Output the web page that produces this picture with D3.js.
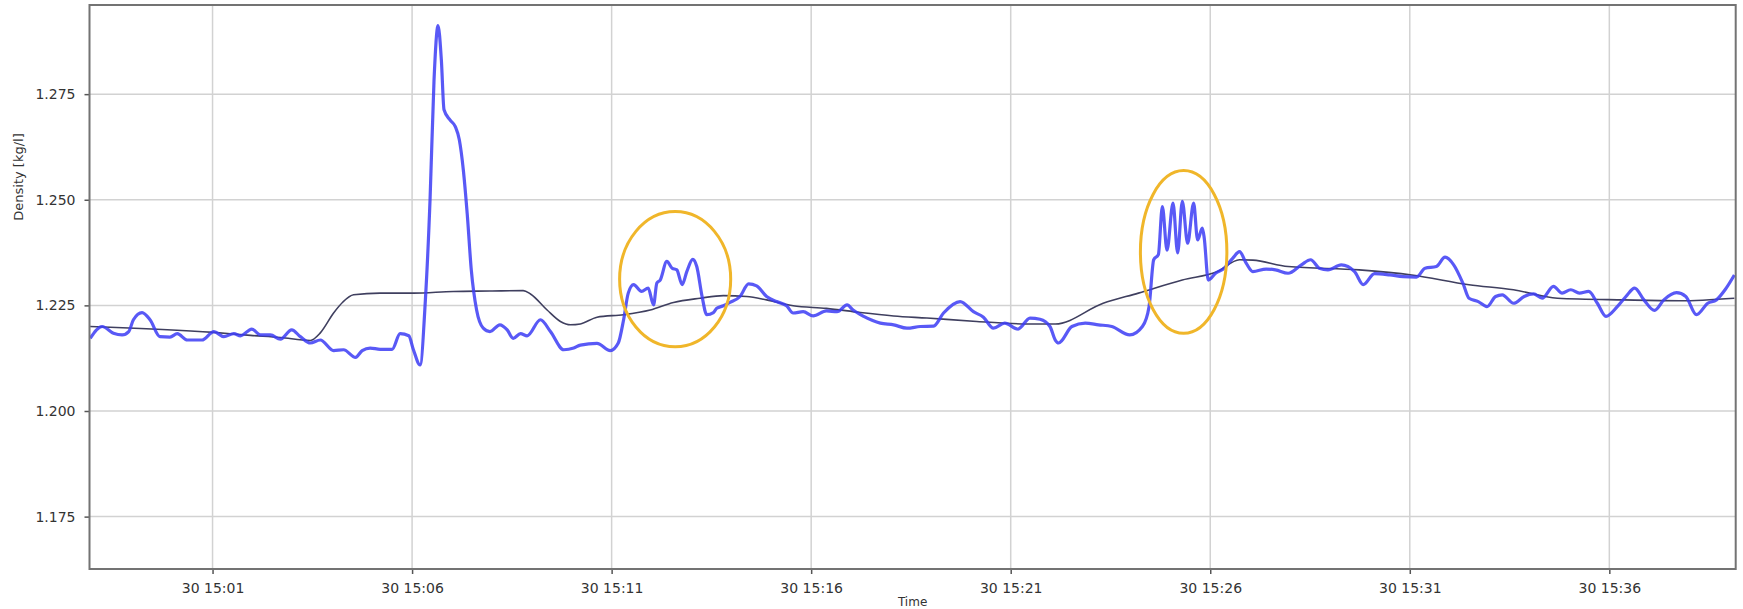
<!DOCTYPE html>
<html>
<head>
<meta charset="utf-8">
<script src="https://cdn.jsdelivr.net/npm/d3@7"></script>
<style>
  html, body { margin: 0; padding: 0; background: #ffffff; }
  svg { display: block; }
  text { font-family: "DejaVu Sans", sans-serif; fill: #333333; }
</style>
</head>
<body>
<svg id="chart" width="1743" height="609"></svg>
<script>
// Measured density (kg/l) over time, day 30
const blueTimes = ["14:57:56","14:58:14","14:58:31","14:58:44","14:58:54","14:59:01","14:59:14","14:59:26","14:59:41","14:59:56",
  "15:00:07","15:00:22","15:00:44","15:01:02","15:01:17","15:01:32","15:01:42","15:01:59","15:02:12","15:02:27",
  "15:02:42","15:02:59","15:03:12","15:03:27","15:03:42","15:04:02","15:04:17","15:04:35","15:04:45","15:04:57",
  "15:05:12","15:05:30","15:05:42","15:05:55","15:06:02","15:06:12","15:06:20","15:06:27","15:06:33","15:06:39",
  "15:06:44","15:06:48","15:06:57","15:07:05","15:07:11","15:07:17","15:07:23","15:07:29","15:07:37","15:07:47",
  "15:07:57","15:08:12","15:08:23","15:08:32","15:08:43","15:08:53","15:09:13","15:09:28","15:09:48","15:10:03",
  "15:10:13","15:10:38","15:10:58","15:11:10","15:11:18","15:11:25","15:11:33","15:11:45","15:11:55","15:12:03",
  "15:12:08","15:12:13","15:12:23","15:12:31","15:12:38","15:12:46","15:12:53","15:13:02","15:13:08","15:13:16",
  "15:13:23","15:13:33","15:13:38","15:13:48","15:13:58","15:14:13","15:14:26","15:14:38","15:14:53","15:15:08",
  "15:15:23","15:15:33","15:15:48","15:16:03","15:16:23","15:16:39","15:16:54","15:17:03","15:17:19","15:17:44",
  "15:18:04","15:18:24","15:18:44","15:19:04","15:19:19","15:19:44","15:20:04","15:20:19","15:20:34","15:20:51",
  "15:21:11","15:21:29","15:21:44","15:21:59","15:22:07","15:22:12","15:22:32","15:22:52","15:23:12","15:23:32",
  "15:23:59","15:24:18","15:24:28","15:24:35","15:24:42","15:24:48","15:24:55","15:25:04","15:25:11","15:25:18",
  "15:25:26","15:25:35","15:25:41","15:25:48","15:25:51","15:25:57","15:26:08","15:26:21","15:26:34","15:26:44",
  "15:26:54","15:27:04","15:27:24","15:27:38","15:27:57","15:28:17","15:28:31","15:28:44","15:28:57","15:29:17",
  "15:29:37","15:29:50","15:30:07","15:30:30","15:30:50","15:31:10","15:31:23","15:31:40","15:31:53","15:32:06",
  "15:32:20","15:32:29","15:32:43","15:32:56","15:33:09","15:33:19","15:33:36","15:33:52","15:34:06","15:34:19",
  "15:34:36","15:34:49","15:35:02","15:35:15","15:35:29","15:35:42","15:35:55","15:36:12","15:36:25","15:36:38",
  "15:36:52","15:37:08","15:37:22","15:37:41","15:37:55","15:38:11","15:38:28","15:38:41","15:38:54","15:39:08"];
const blueValues = [1.2172,1.2200,1.2184,1.2180,1.2188,1.2216,1.2233,1.2216,1.2176,1.2175,
  1.2183,1.2168,1.2168,1.2188,1.2176,1.2183,1.2178,1.2194,1.2180,1.2180,
  1.2170,1.2192,1.2176,1.2161,1.2168,1.2143,1.2145,1.2127,1.2143,1.2149,
  1.2146,1.2146,1.2183,1.2178,1.2145,1.2109,1.2263,1.2500,1.2784,1.2912,
  1.2831,1.2713,1.2689,1.2673,1.2642,1.2571,1.2464,1.2334,1.2239,1.2196,
  1.2188,1.2204,1.2192,1.2172,1.2183,1.2178,1.2216,1.2188,1.2145,1.2149,
  1.2156,1.2160,1.2143,1.2161,1.2216,1.2279,1.2299,1.2283,1.2291,1.2251,
  1.2303,1.2310,1.2354,1.2338,1.2334,1.2299,1.2330,1.2359,1.2342,1.2271,
  1.2228,1.2233,1.2243,1.2249,1.2257,1.2271,1.2301,1.2296,1.2271,1.2259,
  1.2249,1.2232,1.2235,1.2225,1.2237,1.2235,1.2251,1.2239,1.2224,1.2208,
  1.2204,1.2196,1.2200,1.2201,1.2232,1.2259,1.2235,1.2222,1.2196,1.2208,
  1.2194,1.2220,1.2217,1.2200,1.2168,1.2161,1.2200,1.2208,1.2204,1.2200,
  1.2180,1.2200,1.2247,1.2358,1.2370,1.2484,1.2381,1.2492,1.2374,1.2496,
  1.2397,1.2492,1.2405,1.2433,1.2409,1.2310,1.2326,1.2338,1.2362,1.2377,
  1.2350,1.2330,1.2336,1.2334,1.2326,1.2346,1.2358,1.2338,1.2334,1.2346,
  1.2330,1.2299,1.2325,1.2322,1.2318,1.2317,1.2338,1.2342,1.2364,1.2346,
  1.2302,1.2267,1.2259,1.2247,1.2271,1.2275,1.2255,1.2271,1.2277,1.2267,
  1.2295,1.2279,1.2287,1.2279,1.2283,1.2255,1.2224,1.2247,1.2271,1.2291,
  1.2263,1.2238,1.2263,1.2280,1.2271,1.2228,1.2255,1.2263,1.2287,1.2322];

// Smoothed baseline density
const refTimes = ["14:57:56","15:01:02","15:01:57","15:02:42","15:03:27","15:03:42","15:04:02","15:04:16","15:04:32","15:05:12",
  "15:06:02","15:07:02","15:07:57","15:08:47","15:08:58","15:09:23","15:09:43","15:09:58","15:10:13","15:10:38",
  "15:11:18","15:11:58","15:12:33","15:13:13","15:13:48","15:14:23","15:14:53","15:15:33","15:16:23","15:17:14",
  "15:18:04","15:18:54","15:20:09","15:21:24","15:22:07","15:23:19","15:24:12","15:25:18","15:26:11","15:26:44",
  "15:27:04","15:27:57","15:29:44","15:31:03","15:32:29","15:33:36","15:34:42","15:36:22","15:37:46","15:39:08"];
const refValues = [1.2200,1.2186,1.2179,1.2174,1.2167,1.2185,1.2232,1.2258,1.2275,1.2279,
  1.2279,1.2283,1.2284,1.2285,1.2277,1.2239,1.2212,1.2204,1.2206,1.2222,
  1.2228,1.2239,1.2257,1.2267,1.2273,1.2271,1.2263,1.2249,1.2243,1.2233,
  1.2225,1.2220,1.2212,1.2206,1.2206,1.2255,1.2279,1.2310,1.2330,1.2358,
  1.2357,1.2342,1.2334,1.2322,1.2299,1.2287,1.2267,1.2263,1.2261,1.2267];

// Highlighted episodes (time window and density range)
const highlightStart = ["15:11:12", "15:24:15"];
const highlightEnd   = ["15:13:59", "15:26:25"];
const highlightLow   = [1.2152, 1.2184];
const highlightHigh  = [1.2472, 1.2569];

// Axis ticks
const xTickTimes = ["15:01", "15:06", "15:11", "15:16", "15:21", "15:26", "15:31", "15:36"];
const yTickValues = [1.175, 1.200, 1.225, 1.250, 1.275];
const xDomainTimes = ["14:57:55", "15:39:10"];
const yDomain = [1.1626, 1.2961];

const day = "2020-11-30 ";
const parseSec = d3.timeParse("%Y-%m-%d %H:%M:%S");
const parseMin = d3.timeParse("%Y-%m-%d %H:%M");

const blueData = blueTimes.map((t, i) => ({ t: parseSec(day + t), v: blueValues[i] }));
const refData = refTimes.map((t, i) => ({ t: parseSec(day + t), v: refValues[i] }));

const plot = { left: 89.5, right: 1735.7, top: 5, bottom: 569 };

const svg = d3.select("#chart");

const x = d3.scaleTime()
  .domain(xDomainTimes.map(t => parseSec(day + t)))
  .range([plot.left, plot.right]);
const y = d3.scaleLinear()
  .domain(yDomain)
  .range([plot.bottom, plot.top]);

const xTicks = xTickTimes.map(t => parseMin(day + t));

// grid
const grid = svg.append("g").attr("class", "grid");
grid.selectAll("line.gx").data(xTicks).join("line")
  .attr("x1", d => x(d)).attr("x2", d => x(d))
  .attr("y1", plot.top).attr("y2", plot.bottom)
  .attr("stroke", "#d2d2d2").attr("stroke-width", 1.5);
grid.selectAll("line.gy").data(yTickValues).join("line")
  .attr("x1", plot.left).attr("x2", plot.right)
  .attr("y1", d => y(d)).attr("y2", d => y(d))
  .attr("stroke", "#d2d2d2").attr("stroke-width", 1.5);

// clip to plot area
svg.append("defs").append("clipPath").attr("id", "plotclip")
  .append("rect")
  .attr("x", plot.left).attr("y", plot.top)
  .attr("width", plot.right - plot.left).attr("height", plot.bottom - plot.top);

const lines = svg.append("g").attr("clip-path", "url(#plotclip)");

const line = d3.line()
  .x(d => x(d.t))
  .y(d => y(d.v))
  .curve(d3.curveMonotoneX);

lines.append("path")
  .datum(refData)
  .attr("fill", "none")
  .attr("stroke", "#3f3f5f")
  .attr("stroke-width", 1.6)
  .attr("d", line);

lines.append("path")
  .datum(blueData)
  .attr("fill", "none")
  .attr("stroke", "#3c3cf4")
  .attr("stroke-opacity", 0.85)
  .attr("stroke-width", 3.2)
  .attr("stroke-linejoin", "round")
  .attr("d", line);

// highlight ellipses
const highlights = highlightStart.map((s, i) => ({
  t0: parseSec(day + s), t1: parseSec(day + highlightEnd[i]),
  lo: highlightLow[i], hi: highlightHigh[i]
}));
svg.append("g").selectAll("ellipse").data(highlights).join("ellipse")
  .attr("cx", d => (x(d.t0) + x(d.t1)) / 2)
  .attr("cy", d => (y(d.lo) + y(d.hi)) / 2)
  .attr("rx", d => (x(d.t1) - x(d.t0)) / 2)
  .attr("ry", d => (y(d.lo) - y(d.hi)) / 2)
  .attr("fill", "none")
  .attr("stroke", "#f0b62a")
  .attr("stroke-width", 3);

// axes
const fmtX = d3.timeFormat("%d %H:%M");
const xAxis = svg.append("g")
  .attr("transform", `translate(0,${plot.bottom})`)
  .call(d3.axisBottom(x).tickValues(xTicks).tickFormat(fmtX).tickSize(5).tickPadding(9));
const yAxis = svg.append("g")
  .attr("transform", `translate(${plot.left},0)`)
  .call(d3.axisLeft(y).tickValues(yTickValues).tickFormat(d3.format(".3f")).tickSize(5).tickPadding(9));

[xAxis, yAxis].forEach(a => {
  a.select(".domain").remove();
  a.selectAll(".tick line").attr("stroke", "#555555").attr("stroke-width", 1.5);
  a.selectAll(".tick text").attr("fill", "#333333").style("font-size", "14px")
    .style("font-family", "'DejaVu Sans', sans-serif");
});

// frame
svg.append("rect")
  .attr("x", plot.left).attr("y", plot.top)
  .attr("width", plot.right - plot.left).attr("height", plot.bottom - plot.top)
  .attr("fill", "none")
  .attr("stroke", "#737373")
  .attr("stroke-width", 2);

// axis titles
svg.append("text")
  .attr("transform", "translate(23,177) rotate(-90)")
  .attr("text-anchor", "middle")
  .style("font-size", "13px")
  .text("Density [kg/l]");

svg.append("text")
  .attr("x", (plot.left + plot.right) / 2)
  .attr("y", 606)
  .attr("text-anchor", "middle")
  .style("font-size", "12px")
  .text("Time");
</script>
</body>
</html>
